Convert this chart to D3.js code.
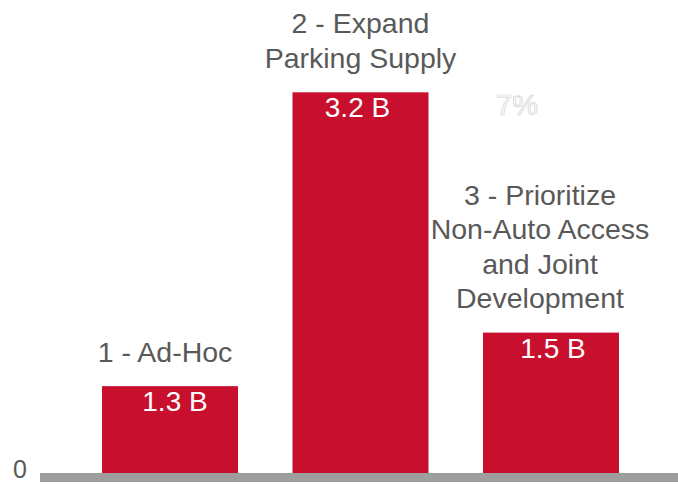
<!DOCTYPE html>
<html>
<head>
<meta charset="utf-8">
<script src="https://cdn.jsdelivr.net/npm/d3@7"></script>
<style>
  html, body { margin: 0; padding: 0; background: #ffffff; }
  svg { display: block; }
  text { font-family: "Liberation Sans", Arial, Helvetica, sans-serif; }
</style>
</head>
<body>
<svg id="chart" width="678" height="485"></svg>
<script>
// ---- data ----
const categories = ["1 - Ad-Hoc", "2 - Expand Parking Supply", "3 - Prioritize Non-Auto Access and Joint Development"];
const categoryLines = [
  ["1 - Ad-Hoc"],
  ["2 - Expand", "Parking Supply"],
  ["3 - Prioritize", "Non-Auto Access", "and Joint", "Development"]
];
const barValues = [0.73, 3.2, 1.18];          // drawn bar heights
const valueLabels = ["1.3 B", "3.2 B", "1.5 B"]; // printed values
const yTicks = [0];
const annotation = "7%";

// ---- layout ----
const W = 678, H = 485;
const baseY = 473;
const labelDx = [-5, 0, -11];
const valueDx = [5, -3, 2];
const svg = d3.select("#chart");

const x = d3.scaleBand()
  .domain(categories)
  .range([102, 619])
  .paddingInner(0.286)
  .paddingOuter(0);

const y = d3.scaleLinear()
  .domain([0, 3.2])
  .range([baseY, 92.3]);

const red = "#c8102e";
const textGrey = "#595959";

// bars
svg.selectAll("rect.bar")
  .data(categories)
  .join("rect")
  .attr("class", "bar")
  .attr("x", d => x(d))
  .attr("width", x.bandwidth())
  .attr("y", (d, i) => y(barValues[i]))
  .attr("height", (d, i) => y(0) - y(barValues[i]))
  .attr("fill", red);

// baseline axis
svg.append("rect")
  .attr("x", 40)
  .attr("y", y(0))
  .attr("width", W - 40)
  .attr("height", 9)
  .attr("fill", "#9e9e9e");

// y tick label "0"
svg.selectAll("text.ytick")
  .data(yTicks)
  .join("text")
  .attr("class", "ytick")
  .attr("x", 20)
  .attr("y", d => y(d) + 5)
  .attr("text-anchor", "middle")
  .attr("font-size", 25)
  .attr("fill", textGrey)
  .text(d => d);

// value labels inside bars
svg.selectAll("text.val")
  .data(categories)
  .join("text")
  .attr("class", "val")
  .attr("x", (d, i) => x(d) + x.bandwidth() / 2 + valueDx[i])
  .attr("y", (d, i) => y(barValues[i]) + 25)
  .attr("text-anchor", "middle")
  .attr("font-size", 28)
  .attr("fill", "#ffffff")
  .text((d, i) => valueLabels[i]);

// category labels above bars
const lineH = 34.5;
categories.forEach((c, i) => {
  const lines = categoryLines[i];
  const lastBaseline = y(barValues[i]) - 24.5;
  const t = svg.append("text")
    .attr("text-anchor", "middle")
    .attr("font-size", 28.5)
    .attr("fill", textGrey);
  lines.forEach((ln, j) => {
    t.append("tspan")
      .attr("x", x(c) + x.bandwidth() / 2 + labelDx[i])
      .attr("y", lastBaseline - (lines.length - 1 - j) * lineH)
      .text(ln);
  });
});

// faint outlined annotation
svg.append("text")
  .attr("x", 517)
  .attr("y", 115)
  .attr("text-anchor", "middle")
  .attr("font-size", 29)
  .attr("fill", "none")
  .attr("stroke", "#cfcfcf")
  .attr("stroke-width", 0.7)
  .text(annotation);
</script>
</body>
</html>
